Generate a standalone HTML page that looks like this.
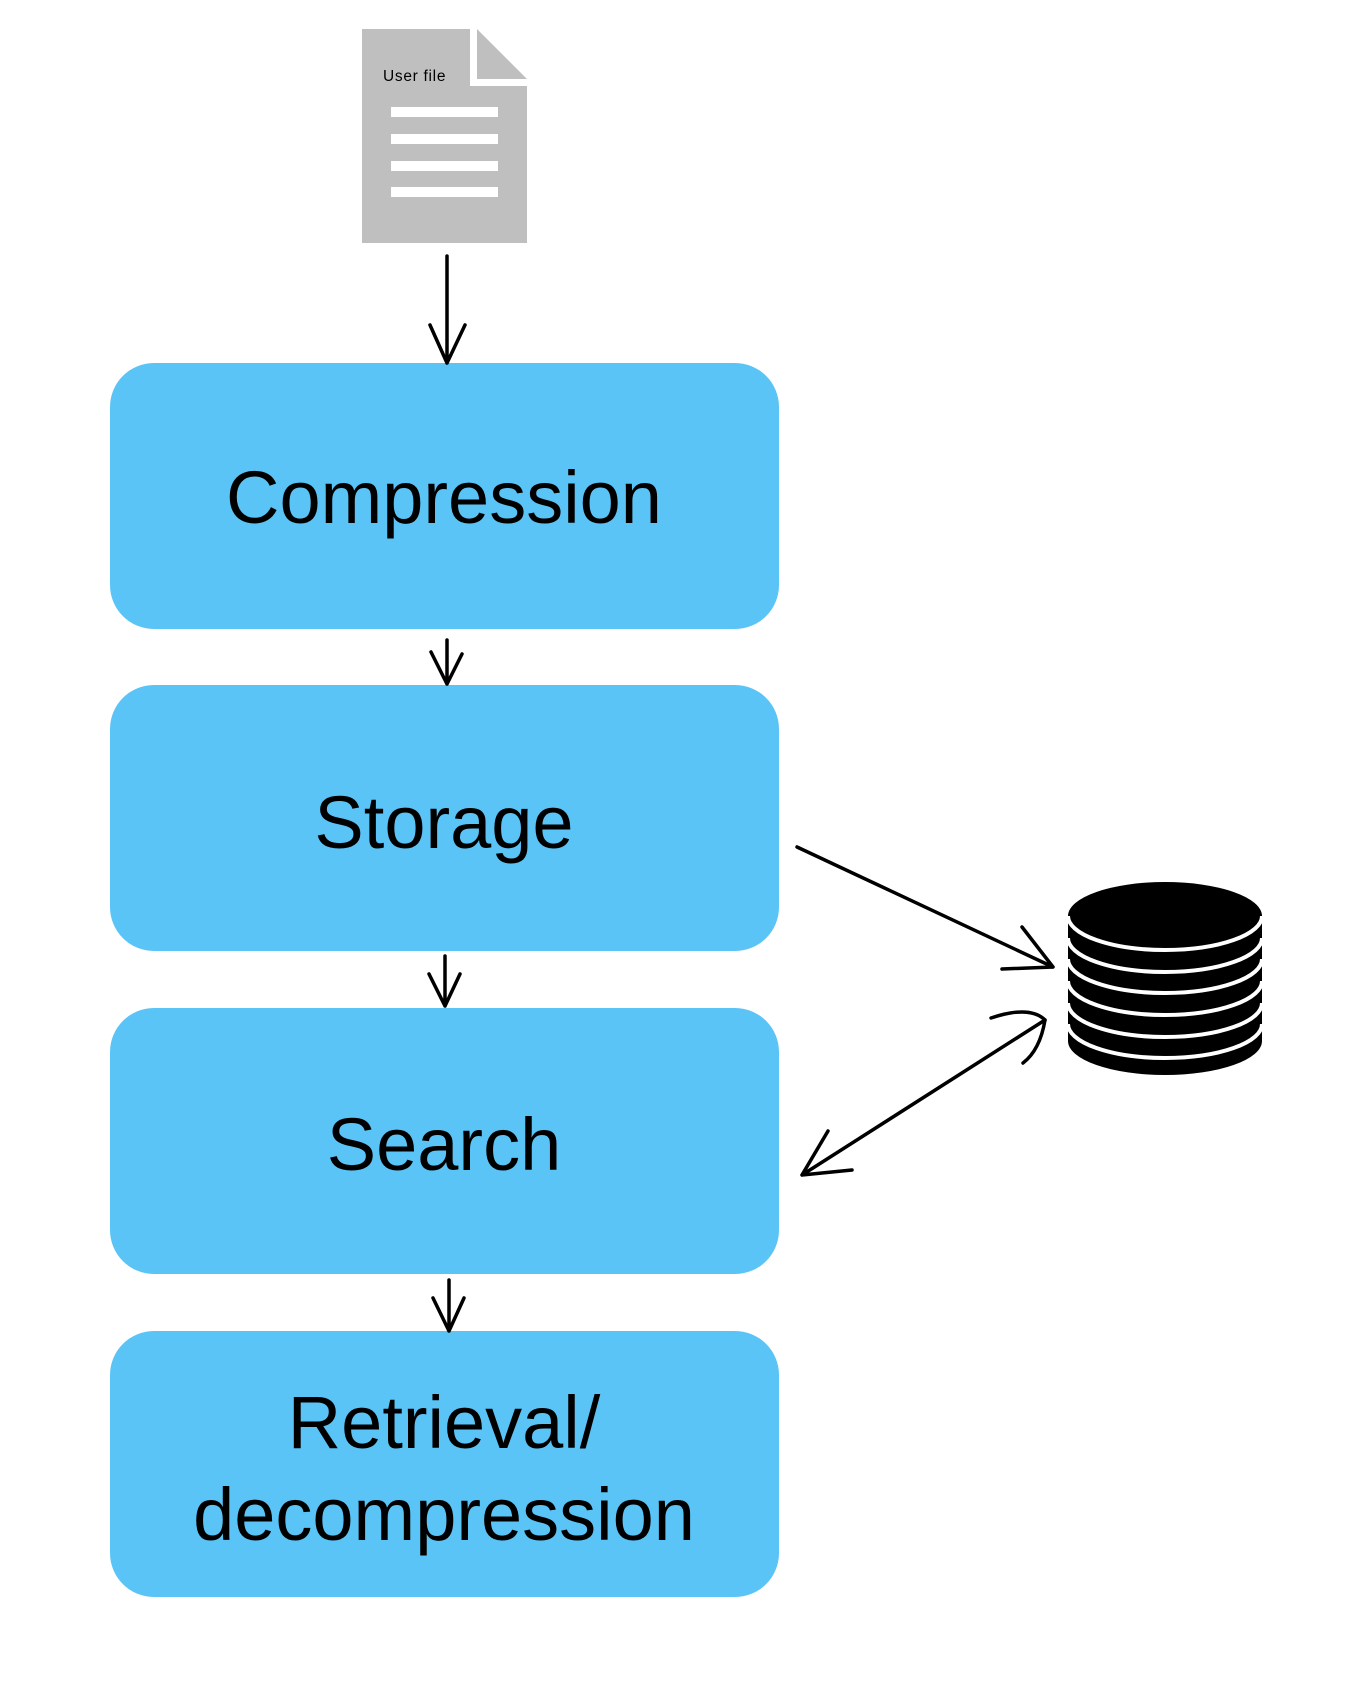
<!DOCTYPE html>
<html><head><meta charset="utf-8"><style>
html,body{margin:0;padding:0;background:#fff;}
svg{display:block}
text{font-family:"Liberation Sans",Arial,sans-serif;fill:#000}
</style></head><body>
<svg width="1351" height="1686" viewBox="0 0 1351 1686" xmlns="http://www.w3.org/2000/svg">
<!-- document -->
<polygon points="362,29 470,29 470,86 527,86 527,243 362,243" fill="#bfbfbf"/>
<polygon points="477,29 527,79 477,79" fill="#bfbfbf"/>
<rect x="391" y="107" width="107" height="10" fill="#fff"/>
<rect x="391" y="134" width="107" height="10" fill="#fff"/>
<rect x="391" y="161" width="107" height="10" fill="#fff"/>
<rect x="391" y="187" width="107" height="10" fill="#fff"/>
<text x="383" y="81" font-size="15.5" letter-spacing="0.7">User file</text>

<!-- boxes -->
<rect x="110" y="363" width="669" height="266" rx="44" fill="#5bc4f6"/>
<rect x="110" y="685" width="669" height="266" rx="44" fill="#5bc4f6"/>
<rect x="110" y="1008" width="669" height="266" rx="44" fill="#5bc4f6"/>
<rect x="110" y="1331" width="669" height="266" rx="44" fill="#5bc4f6"/>
<text x="444" y="523" font-size="74" text-anchor="middle">Compression</text>
<text x="444" y="848" font-size="74" text-anchor="middle">Storage</text>
<text x="444" y="1170" font-size="74" text-anchor="middle">Search</text>
<text x="444" y="1448" font-size="74" text-anchor="middle">Retrieval/</text>
<text x="444" y="1540" font-size="74" text-anchor="middle">decompression</text>

<g stroke="#000" stroke-width="3.5" fill="none" stroke-linecap="round" stroke-linejoin="round">
<path d="M447,256 L447,363 M430,325 L447,363 L465,325"/>
<path d="M447,640 L447,684 M431,652 L447,684 L462,654"/>
<path d="M445,956 L445,1006 M429,974 L445,1006 L460,974"/>
<path d="M449,1280 L449,1331 M433,1298 L449,1331 L464,1298"/>
<path d="M797,847 L1053,967 M1022,927 L1053,967 L1002,969"/>
<path d="M802,1175 L1045,1020 M828,1131 L802,1175 L852,1170"/>
<path d="M991,1018 Q1030,1005 1045,1020 Q1040,1050 1023,1063"/>
</g>

<!-- database -->
<path d="M1068,916 L1068,1041 A97,34 0 0 0 1262,1041 L1262,916 A97,34 0 0 0 1068,916 Z" fill="#000"/>
<g stroke="#fff" stroke-width="4" fill="none">
<path d="M1068,916 A97,34 0 0 0 1262,916"/>
<path d="M1068,938 A97,34 0 0 0 1262,938"/>
<path d="M1068,959 A97,34 0 0 0 1262,959"/>
<path d="M1068,981 A97,34 0 0 0 1262,981"/>
<path d="M1068,1003 A97,34 0 0 0 1262,1003"/>
<path d="M1068,1024 A97,34 0 0 0 1262,1024"/>
</g>
</svg>
</body></html>
